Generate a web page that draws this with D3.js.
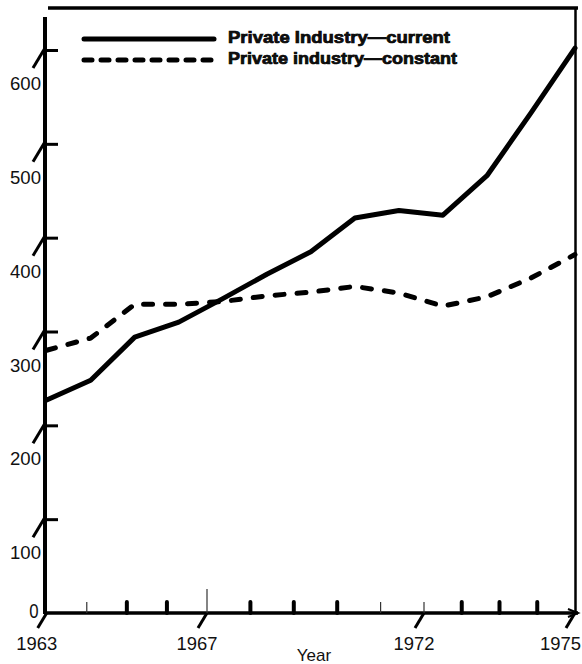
<!DOCTYPE html>
<html>
<head>
<meta charset="utf-8">
<script src="https://cdn.jsdelivr.net/npm/d3@7"></script>
<style>
  body { margin: 0; background: #fff; }
  text { font-family: "Liberation Sans", Arial, sans-serif; fill: #111; }
</style>
</head>
<body>
<script>
// values
const years = [1963, 1964, 1965, 1966, 1967, 1968, 1969, 1970, 1971, 1972, 1973, 1974, 1975];
const current = [227, 248, 294, 310, 335, 361, 385, 421, 429, 424, 466, 533, 602];
const constant = [280, 293, 329, 329, 332, 338, 342, 348, 341, 327, 337, 357, 382];
const yTicks = [100, 200, 300, 400, 500, 600];
const xLabels = ["1963", "1967", "1972", "1975"];
const seriesNames = ["Private Industry\u2014current", "Private industry\u2014constant"];

const W = 582, H = 664;
const svg = d3.select("body").append("svg").attr("width", W).attr("height", H);

// scales
const x = d3.scaleLinear().domain([1963, 1975]).range([46.7, 575]);
const y = d3.scaleLinear().domain([0, 600]).range([613, 50]);
// the printed axis ticks are not evenly spaced, so they get their own scale
const xt = d3.scaleLinear().domain([0, 4, 9, 13]).range([46.7, 207, 424, 575]);
const tickKinds = ["none", "thin", "thick", "thick", "tall", "thick", "thick", "thick", "thin", "thin", "thick", "thick", "thick", "none"];
const labelIdx = [0, 4, 9, 13];

// frame: top rule, right rule, left axis, bottom axis
svg.append("line").attr("x1", 48).attr("x2", 578).attr("y1", 8).attr("y2", 8)
  .attr("stroke", "#000").attr("stroke-width", 3.5);
svg.append("line").attr("x1", 575.5).attr("x2", 575.5).attr("y1", 8).attr("y2", 613)
  .attr("stroke", "#000").attr("stroke-width", 2.5);
svg.append("line").attr("x1", 45).attr("x2", 45).attr("y1", 17).attr("y2", y(0) + 1)
  .attr("stroke", "#000").attr("stroke-width", 4);
svg.append("line").attr("x1", 44).attr("x2", 578).attr("y1", y(0)).attr("y2", y(0))
  .attr("stroke", "#000").attr("stroke-width", 3.5);
// small arrow head at the end of the x axis
svg.append("path").attr("d", `M568,${y(0) - 4}L578,${y(0)}L568,${y(0) + 4}`)
  .attr("fill", "none").attr("stroke", "#000").attr("stroke-width", 2);

// y axis ticks (drawn to the right of the axis)
const yAxis = svg.append("g").attr("transform", "translate(45,0)")
  .call(d3.axisRight(y).tickValues(yTicks).tickSize(13).tickFormat(""));
yAxis.select(".domain").remove();
yAxis.selectAll(".tick line").attr("stroke", "#000").attr("stroke-width", 3);

// the slash marks below each y tick
svg.append("g").selectAll("line").data(yTicks).join("line")
  .attr("x1", 45).attr("y1", d => y(d) - 2)
  .attr("x2", 33).attr("y2", d => y(d) + 18)
  .attr("stroke", "#000").attr("stroke-width", 3);

svg.append("g").selectAll("text").data(yTicks).join("text")
  .attr("x", 41).attr("y", d => y(d) + 40)
  .attr("text-anchor", "end").attr("font-size", 18)
  .attr("textLength", 31).attr("lengthAdjust", "spacingAndGlyphs")
  .text(d => d);
svg.append("text").attr("x", 34).attr("y", y(0) + 5)
  .attr("text-anchor", "middle").attr("font-size", 21)
  .attr("transform", `translate(34,${y(0)}) scale(0.8,1) translate(-34,${-y(0)})`)
  .text("0");

// x axis ticks
const xg = svg.append("g");
tickKinds.forEach((k, i) => {
  const px = xt(i);
  if (k === "thick") {
    xg.append("line").attr("x1", px).attr("x2", px).attr("y1", y(0) - 11).attr("y2", y(0))
      .attr("stroke", "#000").attr("stroke-width", 4).attr("stroke-linecap", "round");
  } else if (k === "thin") {
    xg.append("line").attr("x1", px).attr("x2", px).attr("y1", y(0) - 11).attr("y2", y(0))
      .attr("stroke", "#333").attr("stroke-width", 1.2);
  } else if (k === "tall") {
    xg.append("line").attr("x1", px).attr("x2", px).attr("y1", y(0) - 24).attr("y2", y(0))
      .attr("stroke", "#333").attr("stroke-width", 1.2);
  }
});
xg.selectAll("line.slash").data(labelIdx).join("line").attr("class", "slash")
  .attr("x1", d => xt(d)).attr("y1", y(0))
  .attr("x2", d => xt(d) - 9).attr("y2", y(0) + 15)
  .attr("stroke", "#000").attr("stroke-width", 3);
xg.selectAll("text").data(labelIdx).join("text")
  .attr("x", (d, i) => i === labelIdx.length - 1 ? 581 : xt(d) - 10)
  .attr("y", 650)
  .attr("text-anchor", (d, i) => i === labelIdx.length - 1 ? "end" : "middle")
  .attr("font-size", 18)
  .attr("textLength", 41).attr("lengthAdjust", "spacingAndGlyphs")
  .text((d, i) => xLabels[i]);
svg.append("text").attr("x", 314).attr("y", 661)
  .attr("text-anchor", "middle").attr("font-size", 17).text("Year");

// the two series
const line = d3.line().x((d, i) => x(years[i])).y(d => y(d));
svg.append("path").datum(current).attr("d", line)
  .attr("fill", "none").attr("stroke", "#000").attr("stroke-width", 5)
  .attr("stroke-linejoin", "round").attr("stroke-linecap", "round");
svg.append("path").datum(constant).attr("d", line)
  .attr("fill", "none").attr("stroke", "#000").attr("stroke-width", 5)
  .attr("stroke-dasharray", "9,13").attr("stroke-linejoin", "round").attr("stroke-linecap", "round");

// legend
const legendY = [39, 60];
const legendDash = [null, "8,9"];
const legendLen = [222, 229];
const lg = svg.append("g");
seriesNames.forEach((name, i) => {
  lg.append("line").attr("x1", 84).attr("x2", 214).attr("y1", legendY[i]).attr("y2", legendY[i])
    .attr("stroke", "#000").attr("stroke-width", 5).attr("stroke-linecap", "round")
    .attr("stroke-dasharray", legendDash[i]);
  lg.append("text").attr("x", 228).attr("y", legendY[i] + 4)
    .attr("font-size", 16).attr("font-weight", "bold")
    .attr("stroke", "#000").attr("stroke-width", 0.7)
    .attr("textLength", legendLen[i]).attr("lengthAdjust", "spacingAndGlyphs")
    .text(name);
});
</script>
</body>
</html>
